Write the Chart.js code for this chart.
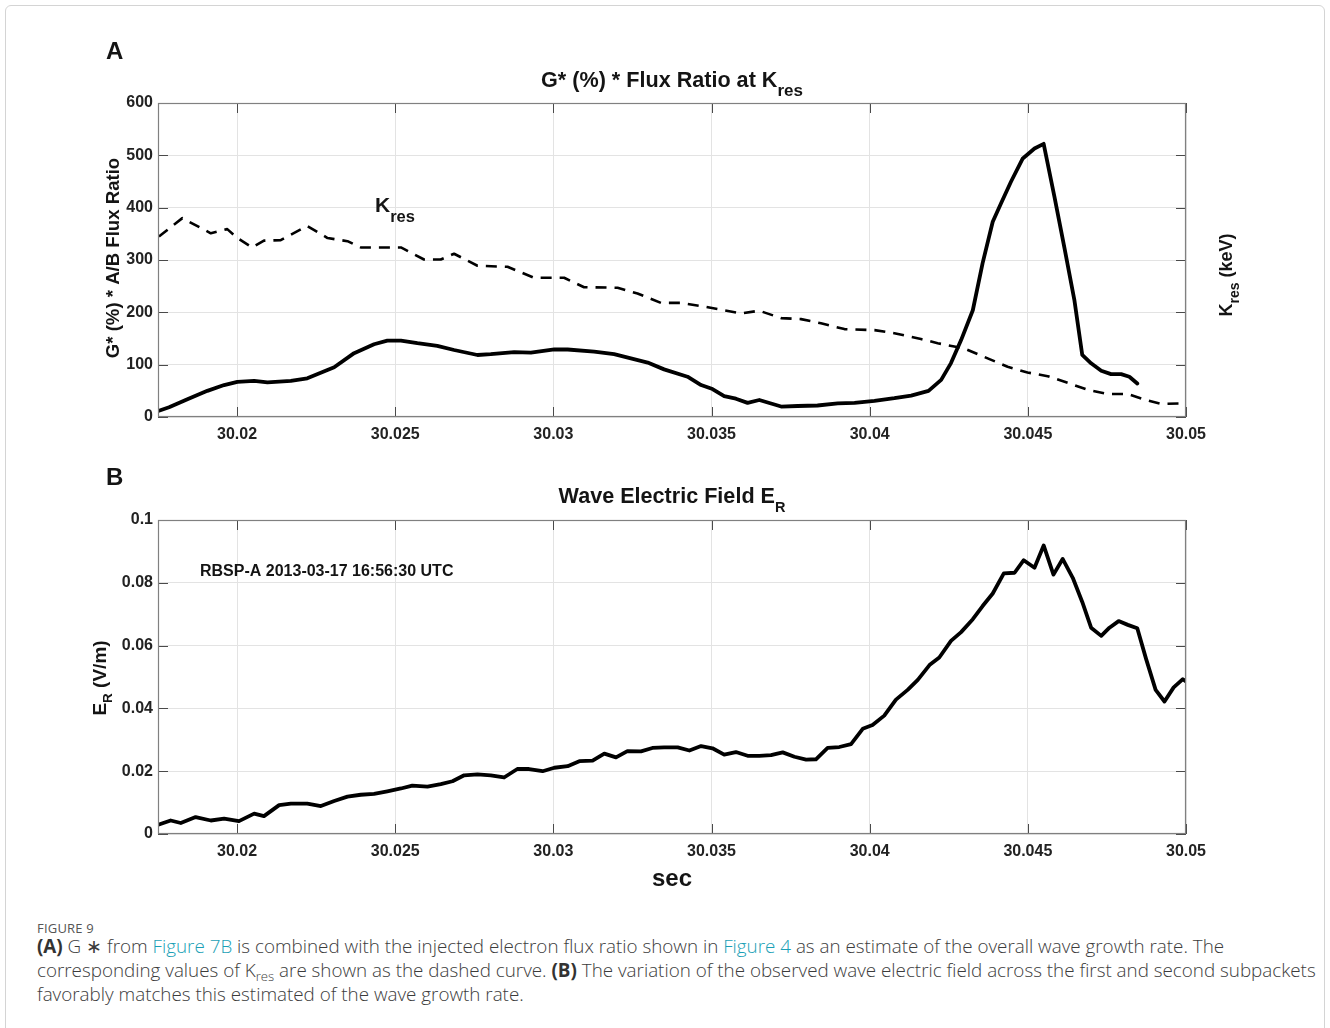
<!DOCTYPE html>
<html>
<head>
<meta charset="utf-8">
<script src="https://cdn.jsdelivr.net/npm/chart.js@4.4.1/dist/chart.umd.min.js"></script>
<style>
  html, body { margin: 0; padding: 0; background: #fff; }
  body { width: 1330px; height: 1028px; position: relative; overflow: hidden; }
  .frame { position: absolute; left: 5px; top: 5px; width: 1320px; height: 1060px;
           border: 1px solid #d4d4d4; border-radius: 6px; box-sizing: border-box; }
  #wrapA { position: absolute; left: 0; top: 0; width: 1330px; height: 460px; }
  #wrapB { position: absolute; left: 0; top: 460px; width: 1330px; height: 440px; }
  .figno { position: absolute; left: 37px; top: 919px; font: 400 13px "Open Sans", "Noto Sans", sans-serif;
           color: #555; letter-spacing: 0.2px; }
  .cap { position: absolute; left: 37px; white-space: nowrap; transform-origin: 0 50%;
         font-family: "Open Sans", "Noto Sans", sans-serif; font-weight: 300; color: #3c3c3c; line-height: 24px; }
  .cap b { font-weight: 700; color: #333; }
  .cap .lk { color: #1a9fb6; }
  .cap sub { font-size: 70%; vertical-align: -4px; line-height: 0; }
</style>
</head>
<body>
<div class="frame"></div>
<div id="wrapA"><canvas id="chartA" width="1330" height="460"></canvas></div>
<div id="wrapB"><canvas id="chartB" width="1330" height="440"></canvas></div>

<div class="figno">FIGURE 9</div>
<div class="cap" id="cap1" style="top:934px"><b>(A)</b> G ∗ from <span class="lk">Figure 7B</span> is combined with the injected electron flux ratio shown in <span class="lk">Figure 4</span> as an estimate of the overall wave growth rate. The</div>
<div class="cap" id="cap2" style="top:958px">corresponding values of K<sub>res</sub> are shown as the dashed curve. <b>(B)</b> The variation of the observed wave electric field across the first and second subpackets</div>
<div class="cap" id="cap3" style="top:982px">favorably matches this estimated of the wave growth rate.</div>

<script>
// ---- Panel A: growth-rate proxy G* x flux ratio, and resonant energy K_res ----
const gTime = [30.01753, 30.01785, 30.01843, 30.01906, 30.01959, 30.02001, 30.02054, 30.02096, 30.0217, 30.02222,
  30.02307, 30.0237, 30.02433, 30.02475, 30.02518, 30.0257, 30.02633, 30.02686, 30.0276, 30.02802,
  30.02876, 30.02929, 30.03003, 30.03045, 30.03129, 30.03192, 30.03245, 30.03298, 30.0335, 30.03424,
  30.03467, 30.03503, 30.0354, 30.03577, 30.03614, 30.03651, 30.0372, 30.03772, 30.03835, 30.03899,
  30.03952, 30.04015, 30.04078, 30.04131, 30.04186, 30.04226, 30.04257, 30.04289, 30.04326, 30.04357,
  30.04389, 30.04415, 30.04447, 30.04484, 30.04521, 30.0455, 30.04584, 30.04616, 30.04647, 30.04672,
  30.047, 30.04732, 30.04763, 30.04795, 30.04821, 30.04846];
const gValue = [12, 18.5, 34, 50, 61, 67, 69, 66, 69, 74,
  95, 122, 139, 146, 146, 141, 136, 128, 118.5, 120,
  124, 123, 129, 129, 125, 120, 112, 104, 91, 77,
  61, 53.5, 40, 35, 27, 32.5, 20, 21, 22, 26,
  27, 31, 36, 41, 50, 71, 103, 147, 204, 294,
  373, 408, 450, 494, 513, 522, 421, 322, 224, 118.5,
  102.6, 88.5, 82, 82, 77, 64];

const kTime = [30.01753, 30.01827, 30.01917, 30.01969, 30.02001, 30.02048, 30.02085, 30.02138, 30.02222, 30.02286,
  30.02349, 30.02391, 30.02518, 30.02591, 30.02644, 30.02686, 30.0276, 30.02855, 30.02939, 30.03034,
  30.03097, 30.03203, 30.03266, 30.0334, 30.03403, 30.03477, 30.03593, 30.03651, 30.0372, 30.03783,
  30.03846, 30.0392, 30.04015, 30.04078, 30.04162, 30.04215, 30.04299, 30.04373, 30.04436, 30.04499,
  30.04563, 30.04637, 30.04689, 30.04753, 30.04816, 30.04869, 30.04922, 30.04995];
const kValue = [345, 380, 351, 359, 342, 324, 337, 338, 365, 342,
  336, 324, 324, 301, 301, 312, 289, 287, 266, 266,
  248, 247, 236, 218, 218, 211, 198, 203, 189, 187,
  179, 168, 166, 160, 149, 141, 131, 112, 96, 85,
  78, 63, 52, 44, 44, 33, 25, 26];

// ---- Panel B: wave electric field E_R (V/m) ----
const eTime = [30.01753, 30.0179, 30.01822, 30.01869, 30.01917, 30.01959, 30.02006, 30.02054, 30.02085, 30.02133,
  30.0217, 30.02222, 30.02265, 30.02307, 30.02349, 30.02391, 30.02433, 30.02475, 30.02518, 30.02554,
  30.02602, 30.02644, 30.02681, 30.02718, 30.0276, 30.02802, 30.02844, 30.02886, 30.02923, 30.02966,
  30.03003, 30.03045, 30.03082, 30.03124, 30.03161, 30.03198, 30.03234, 30.03277, 30.03313, 30.0335,
  30.03393, 30.0343, 30.03467, 30.03503, 30.0354, 30.03577, 30.03614, 30.03651, 30.03688, 30.03725,
  30.03762, 30.03799, 30.0383, 30.03867, 30.03904, 30.03941, 30.03978, 30.04009, 30.04046, 30.04083,
  30.0412, 30.04152, 30.04189, 30.0422, 30.04257, 30.04289, 30.04326, 30.04357, 30.04389, 30.04424,
  30.04458, 30.04487, 30.04521, 30.0455, 30.04581, 30.0461, 30.04642, 30.04672, 30.047, 30.04732,
  30.04758, 30.04787, 30.04816, 30.04846, 30.04874, 30.04904, 30.04932, 30.04961, 30.0499, 30.05];
const eValue = [0.0030, 0.0043, 0.0035, 0.0054, 0.0043, 0.0049, 0.0041, 0.0065, 0.0057, 0.0092,
  0.0097, 0.0097, 0.0089, 0.0105, 0.0119, 0.0125, 0.0128, 0.0136, 0.0145, 0.0154,
  0.0151, 0.0159, 0.0168, 0.0187, 0.0190, 0.0187, 0.0180, 0.0207, 0.0207, 0.0200,
  0.0211, 0.0216, 0.0232, 0.0234, 0.0256, 0.0244, 0.0264, 0.0263, 0.0274, 0.0276,
  0.0276, 0.0266, 0.0280, 0.0273, 0.0253, 0.0261, 0.0249, 0.0249, 0.0251, 0.0260,
  0.0246, 0.0237, 0.0238, 0.0274, 0.0277, 0.0286, 0.0335, 0.0347, 0.0377, 0.0428,
  0.0459, 0.0491, 0.0538, 0.0562, 0.0615, 0.0643, 0.0684, 0.0726, 0.0766, 0.0830,
  0.0832, 0.0872, 0.0848, 0.0919, 0.0826, 0.0876, 0.0816, 0.0739, 0.0657, 0.0631,
  0.0657, 0.0678, 0.0666, 0.0655, 0.0557, 0.0459, 0.0422, 0.0467, 0.0493, 0.0486];

// ---- axis ticks ----
const timeTicks = [30.02, 30.025, 30.03, 30.035, 30.04, 30.045, 30.05];
const growthTicks = [0, 100, 200, 300, 400, 500, 600];
const fieldTicks = [0, 0.02, 0.04, 0.06, 0.08, 0.1];
const timeMin = 30.0175, timeMax = 30.05;

const FONT = '"Liberation Sans", Arial, Helvetica, sans-serif';
const INK = '#141414';
const TICK_SIZE = 16;

function pairs(xs, ys) { return xs.map((x, i) => ({ x: x, y: ys[i] })); }

function richWidth(ctx, segs) {
  let w = 0;
  for (const s of segs) { ctx.font = 'bold ' + s.size + 'px ' + FONT; w += ctx.measureText(s.text).width; }
  return w;
}
// draws a run of text pieces (used for subscripts), optionally rotated
function drawRich(ctx, segs, x, y, align, rotate) {
  ctx.save();
  ctx.translate(x, y);
  if (rotate) ctx.rotate(rotate);
  const w = richWidth(ctx, segs);
  let cx = align === 'center' ? -w / 2 : 0;
  ctx.textAlign = 'left';
  ctx.textBaseline = 'alphabetic';
  ctx.fillStyle = INK;
  for (const s of segs) {
    ctx.font = 'bold ' + s.size + 'px ' + FONT;
    ctx.fillText(s.text, cx, s.dy || 0);
    cx += ctx.measureText(s.text).width;
  }
  ctx.restore();
}

// axes box, inward tick marks and all labels around the plot
const decorations = {
  id: 'decorations',
  afterDraw(chart, args, o) {
    const ctx = chart.ctx, a = chart.chartArea;
    const xs = chart.scales.x, ys = chart.scales.y;
    ctx.save();
    ctx.strokeStyle = '#4a4a4a';
    ctx.lineWidth = 1;
    const L = 10;
    ctx.beginPath();
    for (const t of xs.ticks) {
      const px = Math.round(xs.getPixelForValue(t.value)) + 0.5;
      ctx.moveTo(px, a.bottom); ctx.lineTo(px, a.bottom - L);
      ctx.moveTo(px, a.top); ctx.lineTo(px, a.top + L);
    }
    for (const t of ys.ticks) {
      const py = Math.round(ys.getPixelForValue(t.value)) + 0.5;
      ctx.moveTo(a.left, py); ctx.lineTo(a.left + L, py);
      ctx.moveTo(a.right, py); ctx.lineTo(a.right - L, py);
    }
    ctx.stroke();
    ctx.strokeStyle = '#808080';
    ctx.lineWidth = 1.2;
    ctx.strokeRect(a.left + 0.5, a.top + 0.5, a.right - a.left - 1, a.bottom - a.top - 1);
    ctx.restore();

    const mid = (a.left + a.right) / 2;
    for (const item of o.texts) {
      const x = item.x === 'mid' ? mid : item.x;
      drawRich(ctx, item.segs, x, item.y, item.align || 'left', item.rotate || 0);
    }
  }
};

function lineOptions(yMin, yMax, yTickVals, yFmt, padTop, xAxisH, texts) {
  return {
    responsive: false,
    animation: false,
    devicePixelRatio: 1,
    layout: { padding: { top: padTop, left: 0, right: 144, bottom: 0 } },
    plugins: { legend: { display: false }, tooltip: { enabled: false }, decorations: { texts: texts } },
    elements: { point: { radius: 0 }, line: { tension: 0, borderCapStyle: 'round', borderJoinStyle: 'round' } },
    scales: {
      x: {
        type: 'linear', min: timeMin, max: timeMax,
        afterBuildTicks: s => { s.ticks = timeTicks.map(v => ({ value: v })); },
        afterFit: s => { s.height = xAxisH; },
        grid: { color: '#e3e3e3', lineWidth: 1, drawTicks: false },
        border: { display: false },
        ticks: { autoSkip: false, maxRotation: 0, padding: 8, color: '#222',
                 font: { family: FONT, size: TICK_SIZE, weight: 'bold' },
                 callback: v => String(Number(v.toFixed(3))) }
      },
      y: {
        type: 'linear', min: yMin, max: yMax,
        afterBuildTicks: s => { s.ticks = yTickVals.map(v => ({ value: v })); },
        afterFit: s => { s.width = 158; },
        grid: { color: '#e3e3e3', lineWidth: 1, drawTicks: false },
        border: { display: false },
        ticks: { padding: 5, color: '#222', font: { family: FONT, size: TICK_SIZE, weight: 'bold' }, callback: yFmt }
      }
    }
  };
}

Chart.register(decorations);

new Chart(document.getElementById('chartA'), {
  type: 'line',
  data: {
    datasets: [
      { label: 'K_res', data: pairs(kTime, kValue), borderColor: '#000', borderWidth: 2.6,
        borderDash: [11, 8], borderCapStyle: 'butt', fill: false },
      { label: 'G* x flux ratio', data: pairs(gTime, gValue), borderColor: '#000', borderWidth: 3.8, fill: false }
    ]
  },
  options: lineOptions(0, 600, growthTicks, v => String(v), 103, 43, [
    { x: 106, y: 59, segs: [{ text: 'A', size: 24 }] },
    { x: 'mid', y: 87, align: 'center', segs: [{ text: 'G* (%) * Flux Ratio at K', size: 21.6 }, { text: 'res', size: 17, dy: 9 }] },
    { x: 119, y: 258, align: 'center', rotate: -Math.PI / 2, segs: [{ text: 'G* (%) * A/B Flux Ratio', size: 18.6 }] },
    { x: 1232, y: 275, align: 'center', rotate: -Math.PI / 2, segs: [{ text: 'K', size: 18 }, { text: 'res', size: 14, dy: 7 }, { text: ' (keV)', size: 18 }] },
    { x: 375, y: 212, segs: [{ text: 'K', size: 21 }, { text: 'res', size: 16.5, dy: 10 }] }
  ])
});

new Chart(document.getElementById('chartB'), {
  type: 'line',
  data: {
    datasets: [
      { label: 'E_R', data: pairs(eTime, eValue), borderColor: '#000', borderWidth: 3.8, fill: false }
    ]
  },
  options: lineOptions(0, 0.1, fieldTicks, v => String(Number(v.toFixed(2))), 60, 66, [
    { x: 106, y: 25, segs: [{ text: 'B', size: 24 }] },
    { x: 'mid', y: 43, align: 'center', segs: [{ text: 'Wave Electric Field E', size: 21.6 }, { text: 'R', size: 14.5, dy: 9 }] },
    { x: 106, y: 218, align: 'center', rotate: -Math.PI / 2, segs: [{ text: 'E', size: 19 }, { text: 'R', size: 13.5, dy: 6 }, { text: ' (V/m)', size: 19 }] },
    { x: 200, y: 116, segs: [{ text: 'RBSP-A 2013-03-17 16:56:30 UTC', size: 16 }] },
    { x: 'mid', y: 426, align: 'center', segs: [{ text: 'sec', size: 24 }] }
  ])
});

// caption lines: fit the long line to the text block width, keep the same size for the rest
(function fitCaption() {
  const l2 = document.getElementById('cap2');
  const base = 17;
  ['cap1', 'cap2', 'cap3'].forEach(id => { document.getElementById(id).style.fontSize = base + 'px'; });
  const w = l2.getBoundingClientRect().width;
  const size = base * 1279 / w;
  ['cap1', 'cap2', 'cap3'].forEach(id => { document.getElementById(id).style.fontSize = size.toFixed(2) + 'px'; });
})();
</script>
</body>
</html>
